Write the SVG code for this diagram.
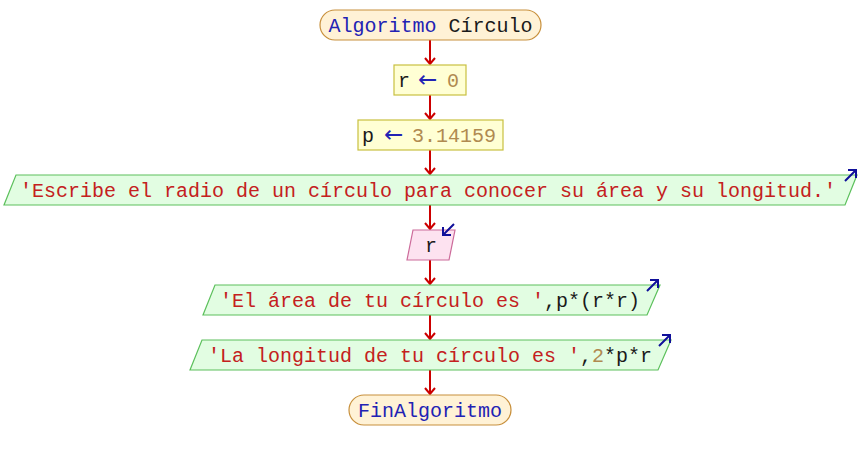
<svg xmlns="http://www.w3.org/2000/svg" width="860" height="460" viewBox="0 0 860 460">
<defs>
<style>
text{font-family:"Liberation Mono","Courier New",monospace;font-size:20px;text-anchor:middle}
text.l{text-anchor:start}
.kw{fill:#2222b4}
.id{fill:#1a1a1a}
.str{fill:#c42020}
.num{fill:#b08a50}
.op{fill:#2222b4;font-family:"DejaVu Sans",sans-serif;font-size:23px}
.term{fill:#fff2d6;stroke:#c8903c;stroke-width:1.2}
.proc{fill:#ffffd4;stroke:#c8c040;stroke-width:1.2}
.out{fill:#e2fde2;stroke:#5cc05c;stroke-width:1.2}
.in{fill:#fde2f0;stroke:#cc6a9a;stroke-width:1.2}
.conn line{stroke:#cc0000;stroke-width:2}
.ico{stroke:#10109a;stroke-width:2;fill:none}
</style>
<marker id="ah" markerWidth="12" markerHeight="10" refX="6" refY="7" orient="0" markerUnits="userSpaceOnUse">
<path d="M1,1 L6,7 L11,1" fill="none" stroke="#cc0000" stroke-width="2"/>
</marker>
</defs>
<rect width="860" height="460" fill="#ffffff"/>
<g id="connectors" class="conn">
<line x1="430" y1="40" x2="430" y2="64" marker-end="url(#ah)"/>
<line x1="430" y1="95" x2="430" y2="119" marker-end="url(#ah)"/>
<line x1="430" y1="150" x2="430" y2="174" marker-end="url(#ah)"/>
<line x1="430" y1="205" x2="430" y2="229" marker-end="url(#ah)"/>
<line x1="430" y1="260" x2="430" y2="284" marker-end="url(#ah)"/>
<line x1="430" y1="315" x2="430" y2="339" marker-end="url(#ah)"/>
<line x1="430" y1="370" x2="430" y2="394" marker-end="url(#ah)"/>
</g>
<g id="start">
<rect class="term" x="320" y="10" width="221" height="30" rx="15"/>
<text x="430.5" y="32"><tspan class="kw">Algoritmo</tspan> <tspan class="id">Círculo</tspan></text>
</g>
<g id="assign_r">
<rect class="proc" x="394" y="65" width="72" height="30"/>
<text class="l" y="87"><tspan class="id" x="398">r</tspan><tspan class="op" x="418">←</tspan><tspan class="num" x="447">0</tspan></text>
</g>
<g id="assign_p">
<rect class="proc" x="358" y="120" width="145" height="30"/>
<text class="l" y="142"><tspan class="id" x="362">p</tspan><tspan class="op" x="384">←</tspan><tspan class="num" x="412">3.14159</tspan></text>
</g>
<g id="out1">
<polygon class="out" points="16,175 857,175 845,205 4,205"/>
<text x="428" y="197" class="str">'Escribe el radio de un círculo para conocer su área y su longitud.'</text>
<path class="ico" d="M845,181 L856,170 M848,170 L856,170 L856,178"/>
</g>
<g id="in_r">
<polygon class="in" points="413,230 455,230 449,260 407,260"/>
<text x="431" y="252" class="id">r</text>
<path class="ico" d="M454,224 L443,235 M443,227 L443,235 L451,235"/>
</g>
<g id="out2">
<polygon class="out" points="215,285 660,285 647,315 203,315"/>
<text x="430" y="307"><tspan class="str">'El área de tu círculo es '</tspan><tspan class="id">,p*(r*r)</tspan></text>
<path class="ico" d="M647,291 L658,280 M650,280 L658,280 L658,288"/>
</g>
<g id="out3">
<polygon class="out" points="202,340 671,340 658,370 190,370"/>
<text x="430" y="362"><tspan class="str">'La longitud de tu círculo es '</tspan><tspan class="id">,</tspan><tspan class="num">2</tspan><tspan class="id">*p*r</tspan></text>
<path class="ico" d="M659,346 L670,335 M662,335 L670,335 L670,343"/>
</g>
<g id="end">
<rect class="term" x="349" y="395" width="162" height="30" rx="15"/>
<text x="430" y="417" class="kw">FinAlgoritmo</text>
</g>
</svg>
